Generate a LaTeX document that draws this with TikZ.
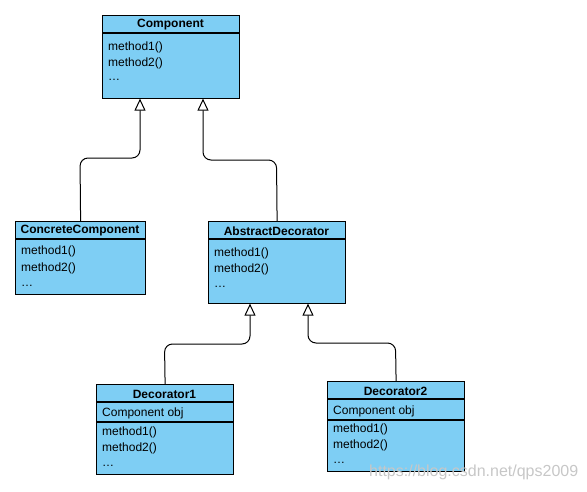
\documentclass[tikz,border=0pt]{standalone}
\usepackage{fontspec}
\setmainfont{Liberation Sans}
\usetikzlibrary{arrows.meta,calc}
\definecolor{boxblue}{RGB}{126,206,244}
\tikzset{
  cls/.style={draw=black, fill=boxblue, line width=1.2pt, anchor=north west, inner sep=0pt, rectangle},
  ttl/.style={font=\fontsize{12}{14}\selectfont\bfseries, inner sep=0pt, yshift=-1.5pt},
  mth/.style={font=\fontsize{12}{14}\selectfont, anchor=west, inner sep=0pt, yshift=-1.5pt},
  sep/.style={line width=1.2pt},
  inh/.style={line width=1pt, rounded corners=8pt, -{Triangle[open, width=11pt, length=12pt, line width=1pt]}},
  wm/.style={font=\fontsize{16}{18}\selectfont, text=black!22, anchor=west, inner sep=0pt}
}
\begin{document}
\begin{tikzpicture}[x=1pt,y=-1pt]
\useasboundingbox (0,0) rectangle (587,491);
% Component
\node[cls, minimum width=137pt, minimum height=83pt] (comp) at (102,15) {};
\node[ttl] (compT) at (170.5,23.5) {Component};
\draw[sep] (102,33) -- (239,33);
\node[mth] (compM1) at (108,46) {method1()};
\node[mth] (compM2) at (108,62) {method2()};
\node[mth] (compM3) at (108,78) {\dots};
% ConcreteComponent
\node[cls, minimum width=130pt, minimum height=73pt] (cc) at (15,221) {};
\node[ttl] (ccT) at (80,229.5) {ConcreteComponent};
\draw[sep] (15,239) -- (145,239);
\node[mth] (ccM1) at (21,250) {method1()};
\node[mth] (ccM2) at (21,267) {method2()};
\node[mth] (ccM3) at (21,284) {\dots};
% AbstractDecorator
\node[cls, minimum width=137pt, minimum height=82pt] (ad) at (208,221) {};
\node[ttl] (adT) at (276.5,229.5) {AbstractDecorator};
\draw[sep] (208,239) -- (345,239);
\node[mth] (adM1) at (214,252) {method1()};
\node[mth] (adM2) at (214,268) {method2()};
\node[mth] (adM3) at (214,285) {\dots};
% Decorator1
\node[cls, minimum width=137pt, minimum height=90pt] (d1) at (96,384) {};
\node[ttl] (d1T) at (164.5,392.5) {Decorator1};
\draw[sep] (96,402) -- (233,402);
\node[mth] (d1A) at (102,412) {Component obj};
\draw[sep] (96,422) -- (233,422);
\node[mth] (d1M1) at (102,431) {method1()};
\node[mth] (d1M2) at (102,447) {method2()};
\node[mth] (d1M3) at (102,464) {\dots};
% Decorator2
\node[cls, minimum width=137pt, minimum height=90pt] (d2) at (327,381) {};
\node[ttl] (d2T) at (395.5,389.5) {Decorator2};
\draw[sep] (327,399) -- (464,399);
\node[mth] (d2A) at (333,410) {Component obj};
\draw[sep] (327,420) -- (464,420);
\node[mth] (d2M1) at (333,428) {method1()};
\node[mth] (d2M2) at (333,444) {method2()};
\node[mth] (d2M3) at (333,461) {\dots};
% arrow targets
\coordinate (compA1) at (140,98.6);
\coordinate (compA2) at (203,98.6);
\coordinate (adA1) at (250,303.6);
\coordinate (adA2) at (308,303.6);
% connectors
\draw[inh] (cc.north) -- (80,158) -- (140,158) -- (compA1);
\draw[inh] (ad.north) -- (276.5,160) -- (203,160) -- (compA2);
\draw[inh] (d1.north) -- (164.5,344) -- (250,344) -- (adA1);
\draw[inh] (d2.north) -- (395.5,343) -- (308,343) -- (adA2);
% watermark
\node[wm] (wmk) at (369,472) {https://blog.csdn.net/qps2009};
\end{tikzpicture}
\end{document}
